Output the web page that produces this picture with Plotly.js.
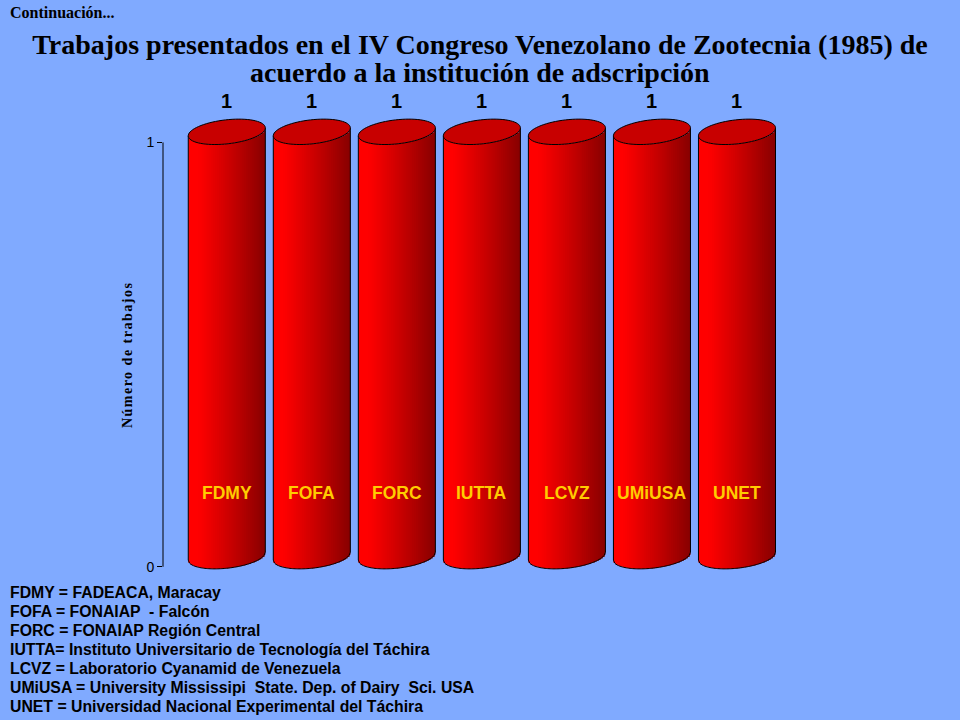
<!DOCTYPE html>
<html>
<head>
<meta charset="utf-8">
<script src="https://cdn.plot.ly/plotly-3.0.1.min.js"></script>
<style>
html,body{margin:0;padding:0;background:#80aaff;}
#chart{width:960px;height:720px;}
#chart g.annotation[data-index="0"] text{letter-spacing:1.5px;}
</style>
</head>
<body>
<div id="chart"></div>
<script>
// ---- data ----
const categories = ['FDMY', 'FOFA', 'FORC', 'IUTTA', 'LCVZ', 'UMiUSA', 'UNET'];
const values = [1, 1, 1, 1, 1, 1, 1];
const yTickVals = [0, 1];
const yTickText = ['0', '1'];
const legendAbbr = ['FDMY', 'FOFA', 'FORC', 'IUTTA', 'LCVZ', 'UMiUSA', 'UNET'];
const legendSep = [' = ', ' = ', ' = ', '= ', ' = ', ' = ', ' = '];
const legendNames = [
  'FADEACA, Maracay',
  'FONAIAP  - Falcón',
  'FONAIAP Región Central',
  'Instituto Universitario de Tecnología del Táchira',
  'Laboratorio Cyanamid de Venezuela',
  'University Mississipi  State. Dep. of Dairy  Sci. USA',
  'Universidad Nacional Experimental del Táchira'
];
const titleLine1 = 'Trabajos presentados en el IV Congreso Venezolano de Zootecnia (1985) de';
const titleLine2 = 'acuerdo a la institución de adscripción';
const yTitle = 'Número de trabajos';
const noteText = 'Continuación...';

// ---- styling / geometry ----
const BG = '#80aaff';
const MARGIN = {l: 163, r: 172, t: 100, b: 132};
const XRANGE = [-0.75, 6.6];
const YRANGE = [-0.05, 1.10];
const PLOT_W = 960 - MARGIN.l - MARGIN.r;
const PLOT_H = 720 - MARGIN.t - MARGIN.b;
const PX_X = PLOT_W / (XRANGE[1] - XRANGE[0]);   // px per category unit
const PX_Y = PLOT_H / (YRANGE[1] - YRANGE[0]);   // px per value unit
const W = 0.906;          // cylinder width (category units)
const LIFT = 0.025;       // 3D lift of cylinder (value units)
const B = 12;             // ellipse semi-minor (px)
const ALPHA = 6.5 * Math.PI / 180;  // ellipse tilt
const HW = W / 2 * PX_X;  // half width in px
const SA = Math.sin(ALPHA), CA = Math.cos(ALPHA);
const A = Math.sqrt((HW * HW - B * B * SA * SA) / (CA * CA));
const NSTRIP = 40;
const serif = 'Liberation Serif, Times New Roman, serif';
const sans = 'Liberation Sans, Arial, sans-serif';

const xIdx = categories.map((c, i) => i);

// lower boundary (px, up positive) of tilted ellipse at horizontal offset X px
function lowerY(X) {
  const qa = SA * SA / (A * A) + CA * CA / (B * B);
  const qb = 2 * X * SA * CA * (1 / (A * A) - 1 / (B * B));
  const qc = X * X * (CA * CA / (A * A) + SA * SA / (B * B)) - 1;
  let disc = qb * qb - 4 * qa * qc;
  if (disc < 0) disc = 0;
  return (-qb - Math.sqrt(disc)) / (2 * qa);
}

function stripColor(t) {
  let r;
  if (t < 0.12) r = 255;
  else r = Math.round(255 - (255 - 135) * Math.pow((t - 0.12) / 0.88, 1.1));
  return 'rgb(' + r + ',0,0)';
}

const traces = [];
for (let s = 0; s < NSTRIP; s++) {
  const t = (s + 0.5) / NSTRIP;
  const Xc = -HW + (s + 0.5) * 2 * HW / NSTRIP;
  const off = LIFT + lowerY(Xc) / PX_Y;
  traces.push({
    type: 'bar',
    x: xIdx,
    y: values,
    base: values.map(() => off),
    width: s === NSTRIP - 1 ? W / NSTRIP : W / NSTRIP * 1.6,
    offset: -W / 2 + s * W / NSTRIP,
    marker: {color: stripColor(t), line: {width: 0}},
    hoverinfo: 'skip'
  });
}

const shapes = [];
const annotations = [];

// y-axis title (index 0, letter-spaced via CSS)
annotations.push({
  xref: 'paper', yref: 'y', x: 0, y: 0.5, xanchor: 'center', yanchor: 'middle',
  xshift: -35, textangle: -90, text: yTitle, showarrow: false,
  font: {family: serif, size: 14, color: '#000', weight: 'bold'}
});

const yEdgeL = lowerY(-HW) / PX_Y;
const yEdgeR = lowerY(HW) / PX_Y;

values.forEach((v, i) => {
  // bottom front outline
  let p = '';
  for (let k = 0; k <= 60; k++) {
    const X = -HW + k * 2 * HW / 60;
    p += (k === 0 ? 'M' : 'L') + (i + X / PX_X) + ',' + (LIFT + lowerY(X) / PX_Y);
  }
  shapes.push({type: 'path', xref: 'x', yref: 'y', path: p, fillcolor: 'rgba(0,0,0,0)', line: {color: '#000', width: 1}});
  // sides
  shapes.push({type: 'line', xref: 'x', yref: 'y', x0: i - W / 2, x1: i - W / 2, y0: LIFT + yEdgeL, y1: v + LIFT + yEdgeL, line: {color: '#000', width: 1}});
  shapes.push({type: 'line', xref: 'x', yref: 'y', x0: i + W / 2, x1: i + W / 2, y0: LIFT + yEdgeR, y1: v + LIFT + yEdgeR, line: {color: '#000', width: 1}});
  // top ellipse
  let q = '';
  for (let k = 0; k < 72; k++) {
    const tt = k / 72 * 2 * Math.PI;
    const X = A * Math.cos(tt) * CA - B * Math.sin(tt) * SA;
    const Y = A * Math.cos(tt) * SA + B * Math.sin(tt) * CA;
    q += (k === 0 ? 'M' : 'L') + (i + X / PX_X) + ',' + (v + LIFT + Y / PX_Y);
  }
  q += 'Z';
  shapes.push({type: 'path', xref: 'x', yref: 'y', path: q, fillcolor: '#c80000', line: {color: '#000', width: 1}});
  // value label
  annotations.push({
    xref: 'x', yref: 'y', x: i, y: v + LIFT, yanchor: 'middle', yshift: 31,
    text: String(v), showarrow: false,
    font: {family: sans, size: 20, color: '#000', weight: 'bold'}
  });
  // category label inside the cylinder
  annotations.push({
    xref: 'x', yref: 'y', x: i, y: 0.175 * v, yanchor: 'middle',
    text: categories[i], showarrow: false,
    font: {family: sans, size: 17.5, color: '#ffcc00', weight: 'bold'}
  });
});

// y axis line from 0 to max
shapes.push({type: 'line', xref: 'paper', yref: 'y', x0: 0, x1: 0, y0: 0, y1: Math.max(...values), line: {color: '#000', width: 1}});

// title second line
annotations.push({
  xref: 'paper', yref: 'paper', x: 0.5, y: 1, xanchor: 'center', yanchor: 'middle',
  xshift: 480 - (MARGIN.l + PLOT_W / 2), yshift: 28, text: titleLine2, showarrow: false,
  font: {family: serif, size: 28, color: '#000', weight: 'bold'}
});

// top-left note
annotations.push({
  xref: 'paper', yref: 'paper', x: 0, y: 1, xanchor: 'left', yanchor: 'middle',
  xshift: -155, yshift: 88, text: noteText, showarrow: false,
  font: {family: serif, size: 16, color: '#000', weight: 'bold'}
});

// bottom abbreviation key
legendAbbr.forEach((a, i) => {
  annotations.push({
    xref: 'paper', yref: 'paper', x: 0, y: 0, xanchor: 'left', yanchor: 'middle',
    xshift: -155, yshift: -(4.5 + 19 * i),
    text: a + legendSep[i] + legendNames[i], showarrow: false,
    font: {family: sans, size: 15.8, color: '#000', weight: 'bold'}
  });
});

const layout = {
  width: 960, height: 720,
  paper_bgcolor: BG, plot_bgcolor: BG,
  margin: MARGIN,
  showlegend: false, hovermode: false,
  barmode: 'overlay',
  title: {
    text: titleLine1, x: 0.5, xref: 'container', y: 1 - 44 / 720, yref: 'container', yanchor: 'middle',
    xanchor: 'center',
    font: {family: serif, size: 28, color: '#000', weight: 'bold'}
  },
  xaxis: {
    range: XRANGE, showgrid: false, zeroline: false, showline: false,
    showticklabels: false, ticks: '', fixedrange: true
  },
  yaxis: {
    range: YRANGE, tickvals: yTickVals, ticktext: yTickText,
    ticks: 'outside', ticklen: 5, tickcolor: '#000', tickwidth: 1,
    showgrid: false, zeroline: false, showline: false,
    tickfont: {family: sans, size: 14, color: '#000'},
    fixedrange: true
  },
  shapes: shapes,
  annotations: annotations
};

Plotly.newPlot('chart', traces, layout, {displayModeBar: false, staticPlot: true});
</script>
</body>
</html>
